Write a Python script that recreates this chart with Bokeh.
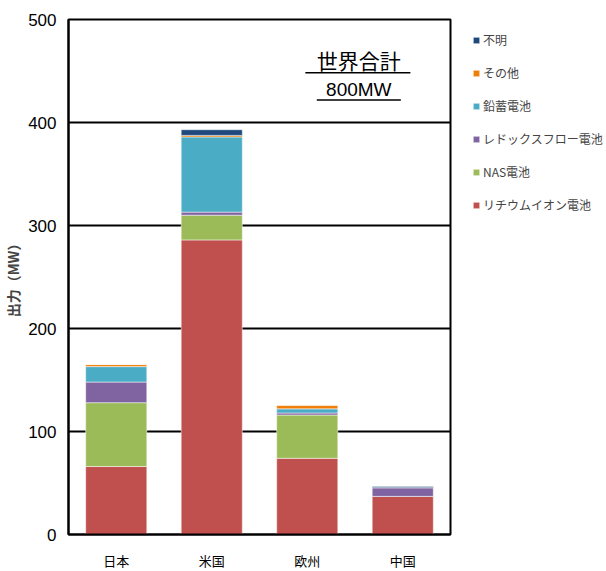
from bokeh.plotting import figure
from bokeh.models import Legend, LegendItem, Label, BoxAnnotation, FactorRange, Range1d, FixedTicker
from bokeh.embed import file_html
from bokeh.resources import INLINE

categories = ["日本", "米国", "欧州", "中国"]
li_ion = [66, 286, 74, 37]
nas = [62, 24, 42, 0]
redox = [20, 3, 2, 8.5]
lead = [15, 73, 4, 0]
other = [2, 1.5, 3.5, 0]
unknown = [0, 5.5, 0, 1]

series_names = ["リチウムイオン電池", "NAS電池", "レドックスフロー電池", "鉛蓄電池", "その他", "不明"]
series_keys = ["li_ion", "nas", "redox", "lead", "other", "unknown"]
colors = ["#C0504D", "#9BBB59", "#8064A2", "#4BACC6", "#F07F09", "#1F497D"]
y_ticks = [0, 100, 200, 300, 400, 500]

data = dict(cat=categories, li_ion=li_ion, nas=nas, redox=redox, lead=lead, other=other, unknown=unknown)

JP = "Noto Sans CJK JP"
NUM = "Liberation Sans"

p = figure(x_range=FactorRange(*categories, range_padding=0), y_range=Range1d(0, 500),
           frame_width=382, frame_height=515, output_backend="svg", toolbar_location=None,
           min_border_left=60, min_border_right=148, min_border_top=19, min_border_bottom=28)

rs = p.vbar_stack(series_keys, x="cat", width=0.64, color=colors, source=data,
                  line_color="white", line_width=0.5)

items = [LegendItem(label=n, renderers=[r]) for n, r in zip(series_names, rs)]
items = items[::-1]
legend = Legend(items=items, location=(22, 321), orientation="vertical",
                label_text_font=JP, label_text_font_size="12px",
                glyph_width=8, glyph_height=8, spacing=16, label_standoff=3,
                background_fill_alpha=0, border_line_color=None, padding=0, margin=0)
p.add_layout(legend, "right")

p.xgrid.grid_line_color = None
p.ygrid.grid_line_color = "black"
p.ygrid.grid_line_width = 2
p.ygrid.ticker = FixedTicker(ticks=y_ticks)
p.yaxis.ticker = FixedTicker(ticks=y_ticks)
p.outline_line_color = "black"
p.outline_line_width = 2
p.outline_line_alpha = 1

p.yaxis.axis_line_color = "black"
p.yaxis.axis_line_width = 2
p.yaxis.major_tick_line_color = None
p.yaxis.minor_tick_line_color = None
p.yaxis.major_label_text_font = NUM
p.yaxis.major_label_text_font_size = "17px"
p.yaxis.major_label_text_color = "black"
p.yaxis.major_label_standoff = 6
p.yaxis.axis_label = "出力（MW）"
p.yaxis.axis_label_text_font = JP
p.yaxis.axis_label_text_font_size = "14px"
p.yaxis.axis_label_text_font_style = "bold"
p.yaxis.axis_label_standoff = 2

p.xaxis.axis_line_color = "black"
p.xaxis.axis_line_width = 2
p.xaxis.major_tick_line_color = None
p.xaxis.minor_tick_line_color = None
p.xaxis.major_label_text_font = JP
p.xaxis.major_label_text_font_size = "13px"
p.xaxis.major_label_text_color = "black"
p.xaxis.major_label_standoff = 10

p.add_layout(Label(x=3.04, y=461, text="世界合計", text_font=JP, text_font_size="21px",
                   text_align="center", text_baseline="middle", text_color="black"))
p.add_layout(Label(x=3.04, y=432, text="800MW", text_font="Liberation Sans", text_font_size="19px",
                   text_align="center", text_baseline="middle", text_color="black"))
p.add_layout(BoxAnnotation(left=2.48, right=3.58, bottom=447.5, top=449, fill_color="black",
                           fill_alpha=1, line_color=None))
p.add_layout(BoxAnnotation(left=2.6, right=3.48, bottom=421, top=422.5, fill_color="black",
                           fill_alpha=1, line_color=None))

open("out.html", "w").write(file_html(p, INLINE))
